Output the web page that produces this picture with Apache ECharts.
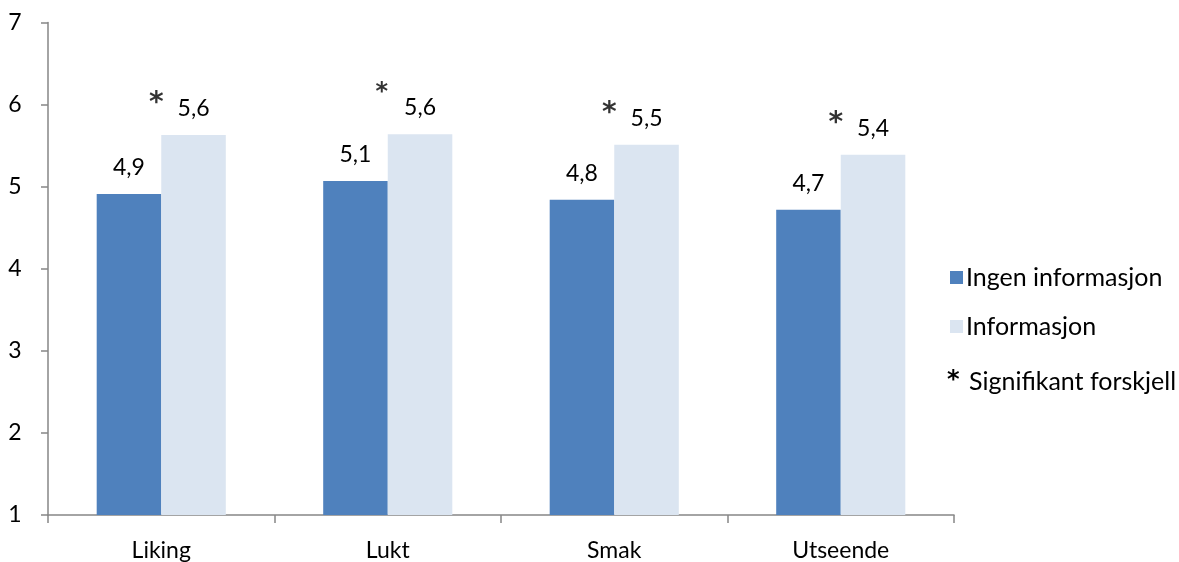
<!DOCTYPE html>
<html>
<head>
<meta charset="utf-8">
<script src="https://cdn.jsdelivr.net/npm/echarts@6/dist/echarts.min.js"></script>
<style>
  html, body { margin: 0; padding: 0; background: #fff; }
  #chart { width: 1179px; height: 562px; }
</style>
</head>
<body>
<div id="chart"></div>
<script>
// Mean scores per attribute, with and without information
const categories = ['Liking', 'Lukt', 'Smak', 'Utseende'];
const ingenInfo = [4.91, 5.07, 4.84, 4.72];
const informasjon = [5.63, 5.64, 5.51, 5.39];
// Significant differences (marked with an asterisk)
const signifikant = [true, true, true, true];
const yTicks = [1, 2, 3, 4, 5, 6, 7];

const FONT = 'Lato, "Open Sans", sans-serif';
const STAR_FONT = '"DejaVu Sans", sans-serif';
const FS = 23;
const LEGEND_FS = 25;
const AXIS_GREY = '#868686';
const fmt = v => v.toFixed(1).replace('.', ',');

const chart = echarts.init(document.getElementById('chart'), null, { renderer: 'canvas' });

chart.setOption({
  animation: false,
  backgroundColor: '#ffffff',
  textStyle: { fontFamily: FONT, color: '#000' },
  grid: { left: 48, right: 225, top: 22.5, bottom: 46.5, containLabel: false },
  legend: {
    orient: 'vertical',
    left: 945,
    top: 260,
    itemWidth: 13,
    itemHeight: 13,
    itemGap: 24,
    icon: 'rect',
    textStyle: { fontFamily: FONT, fontSize: LEGEND_FS, color: '#000', padding: [0, 0, 0, -2] },
    data: ['Ingen informasjon', 'Informasjon']
  },
  xAxis: {
    type: 'category',
    data: categories,
    boundaryGap: true,
    axisLine: { lineStyle: { color: AXIS_GREY, width: 1.5 } },
    axisTick: { show: true, length: 8, interval: 0, lineStyle: { color: AXIS_GREY, width: 1.5 } },
    axisLabel: { fontFamily: FONT, fontSize: FS, color: '#000', margin: 24 }
  },
  yAxis: {
    type: 'value',
    min: yTicks[0],
    max: yTicks[yTicks.length - 1],
    interval: 1,
    axisLine: { show: true, lineStyle: { color: AXIS_GREY, width: 1.5 } },
    axisTick: { show: true, length: 7, lineStyle: { color: AXIS_GREY, width: 1.5 } },
    splitLine: { show: false },
    axisLabel: { fontFamily: FONT, fontSize: FS, color: '#000', margin: 33, align: 'center' }
  },
  series: [
    {
      name: 'Ingen informasjon',
      type: 'bar',
      data: ingenInfo,
      barGap: '0%',
      barCategoryGap: '43%',
      itemStyle: { color: '#4F81BD' },
      label: {
        show: true, position: 'top', distance: 15,
        fontFamily: FONT, fontSize: FS, color: '#000',
        formatter: p => fmt(p.value)
      }
    },
    {
      name: 'Informasjon',
      type: 'bar',
      data: informasjon,
      barGap: '0%',
      barCategoryGap: '43%',
      itemStyle: { color: '#DBE5F1' },
      label: {
        show: true, position: 'top', distance: 15,
        fontFamily: FONT, fontSize: FS, color: '#000',
        formatter: p => fmt(p.value)
      }
    },
    {
      // asterisks above each significant pair
      name: 'Signifikant',
      type: 'scatter',
      symbolSize: 0,
      silent: true,
      data: informasjon.map((v, i) => {
        const item = { value: signifikant[i] ? v : null };
        if (i === 1) {
          item.label = { fontSize: 24, offset: [-6, -41] };
        }
        return item;
      }),
      label: {
        show: true,
        position: 'inside',
        offset: [-5, -31],
        fontFamily: STAR_FONT,
        fontSize: 28,
        fontWeight: 'bold',
        color: '#000',
        formatter: '*'
      }
    }
  ],
  graphic: [
    {
      type: 'text',
      left: 947,
      top: 369,
      style: {
        text: '*',
        font: 'bold 24px ' + STAR_FONT,
        fill: '#000'
      }
    },
    {
      type: 'text',
      left: 969,
      top: 369,
      style: {
        text: 'Signifikant forskjell',
        font: LEGEND_FS + 'px ' + FONT,
        fill: '#000'
      }
    }
  ]
});
</script>
</body>
</html>
